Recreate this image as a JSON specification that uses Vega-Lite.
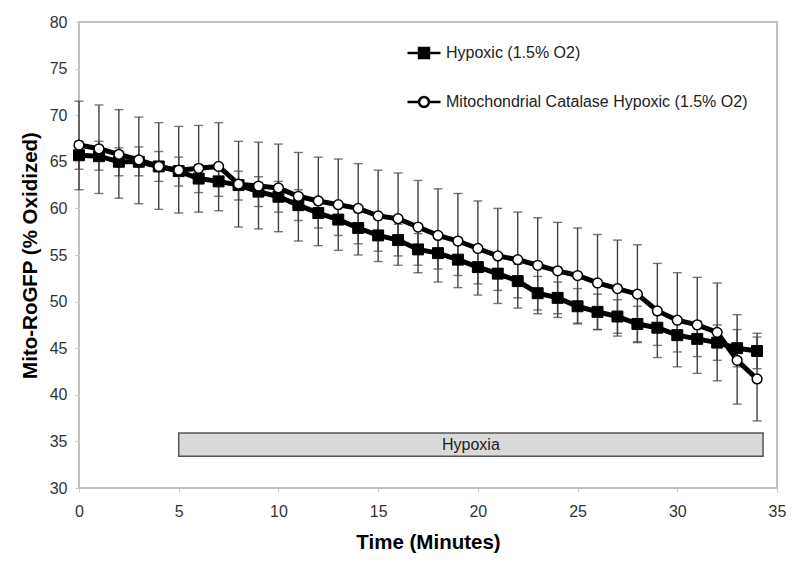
{
  "$schema": "https://vega.github.io/schema/vega-lite/v6.json",
  "width": 698,
  "height": 466,
  "autosize": "none",
  "padding": {"left": 79, "top": 22, "right": 23, "bottom": 78},
  "background": "white",
  "config": {
    "view": {"stroke": "#bfbfbf", "strokeWidth": 2},
    "font": "Liberation Sans",
    "axis": {
      "grid": false,
      "domain": false,
      "ticks": true,
      "tickSize": 4,
      "tickColor": "#c8c8c8",
      "labelFont": "Liberation Sans",
      "labelFontSize": 16,
      "labelColor": "#333333",
      "titleFont": "Liberation Sans",
      "titleFontSize": 20.5,
      "titleFontWeight": "bold",
      "titleColor": "#000000"
    },
    "legend": {
      "title": null,
      "orient": "none",
      "labelFont": "Liberation Sans",
      "labelFontSize": 16,
      "labelColor": "#222222",
      "labelLimit": 500,
      "labelOffset": 4,
      "symbolSize": 1089,
      "symbolStrokeColor": "#000000",
      "symbolStrokeWidth": 2.5
    }
  },
  "resolve": {"scale": {"fill": "independent"}, "legend": {"fill": "independent"}},
  "datasets": {
    "main": [
      {"t": 0, "series": "Hypoxic (1.5% O2)", "v": 65.7, "lo": 64.2, "hi": 67.2},
      {"t": 1, "series": "Hypoxic (1.5% O2)", "v": 65.6, "lo": 64.1, "hi": 67.2},
      {"t": 2, "series": "Hypoxic (1.5% O2)", "v": 65.0, "lo": 63.5, "hi": 66.5},
      {"t": 3, "series": "Hypoxic (1.5% O2)", "v": 65.0, "lo": 63.5, "hi": 66.6},
      {"t": 4, "series": "Hypoxic (1.5% O2)", "v": 64.5, "lo": 62.9, "hi": 66.1},
      {"t": 5, "series": "Hypoxic (1.5% O2)", "v": 64.0, "lo": 62.4, "hi": 65.5},
      {"t": 6, "series": "Hypoxic (1.5% O2)", "v": 63.2, "lo": 61.7, "hi": 64.7},
      {"t": 7, "series": "Hypoxic (1.5% O2)", "v": 62.9, "lo": 61.3, "hi": 64.4},
      {"t": 8, "series": "Hypoxic (1.5% O2)", "v": 62.5, "lo": 60.9, "hi": 64.0},
      {"t": 9, "series": "Hypoxic (1.5% O2)", "v": 61.8, "lo": 60.2, "hi": 63.4},
      {"t": 10, "series": "Hypoxic (1.5% O2)", "v": 61.25, "lo": 59.6, "hi": 62.9},
      {"t": 11, "series": "Hypoxic (1.5% O2)", "v": 60.35, "lo": 58.7, "hi": 62.0},
      {"t": 12, "series": "Hypoxic (1.5% O2)", "v": 59.5, "lo": 57.9, "hi": 61.1},
      {"t": 13, "series": "Hypoxic (1.5% O2)", "v": 58.8, "lo": 57.1, "hi": 60.5},
      {"t": 14, "series": "Hypoxic (1.5% O2)", "v": 57.9, "lo": 56.2, "hi": 59.6},
      {"t": 15, "series": "Hypoxic (1.5% O2)", "v": 57.1, "lo": 55.4, "hi": 58.8},
      {"t": 16, "series": "Hypoxic (1.5% O2)", "v": 56.6, "lo": 54.9, "hi": 58.3},
      {"t": 17, "series": "Hypoxic (1.5% O2)", "v": 55.6, "lo": 53.9, "hi": 57.3},
      {"t": 18, "series": "Hypoxic (1.5% O2)", "v": 55.2, "lo": 53.5, "hi": 56.9},
      {"t": 19, "series": "Hypoxic (1.5% O2)", "v": 54.5, "lo": 52.8, "hi": 56.2},
      {"t": 20, "series": "Hypoxic (1.5% O2)", "v": 53.7, "lo": 51.9, "hi": 55.5},
      {"t": 21, "series": "Hypoxic (1.5% O2)", "v": 53.0, "lo": 51.2, "hi": 54.8},
      {"t": 22, "series": "Hypoxic (1.5% O2)", "v": 52.2, "lo": 50.4, "hi": 54.0},
      {"t": 23, "series": "Hypoxic (1.5% O2)", "v": 50.9, "lo": 49.1, "hi": 52.7},
      {"t": 24, "series": "Hypoxic (1.5% O2)", "v": 50.4, "lo": 48.7, "hi": 52.1},
      {"t": 25, "series": "Hypoxic (1.5% O2)", "v": 49.5, "lo": 47.6, "hi": 51.4},
      {"t": 26, "series": "Hypoxic (1.5% O2)", "v": 48.9, "lo": 47.0, "hi": 50.8},
      {"t": 27, "series": "Hypoxic (1.5% O2)", "v": 48.4, "lo": 46.6, "hi": 50.2},
      {"t": 28, "series": "Hypoxic (1.5% O2)", "v": 47.6, "lo": 45.7, "hi": 49.5},
      {"t": 29, "series": "Hypoxic (1.5% O2)", "v": 47.2, "lo": 45.3, "hi": 49.1},
      {"t": 30, "series": "Hypoxic (1.5% O2)", "v": 46.4, "lo": 44.6, "hi": 48.2},
      {"t": 31, "series": "Hypoxic (1.5% O2)", "v": 46.0, "lo": 44.1, "hi": 47.9},
      {"t": 32, "series": "Hypoxic (1.5% O2)", "v": 45.6, "lo": 43.7, "hi": 47.5},
      {"t": 33, "series": "Hypoxic (1.5% O2)", "v": 45.0, "lo": 43.0, "hi": 47.0},
      {"t": 34, "series": "Hypoxic (1.5% O2)", "v": 44.7, "lo": 42.8, "hi": 46.6},
      {"t": 0, "series": "Mitochondrial Catalase Hypoxic (1.5% O2)", "v": 66.8, "lo": 62.0, "hi": 71.5},
      {"t": 1, "series": "Mitochondrial Catalase Hypoxic (1.5% O2)", "v": 66.4, "lo": 61.6, "hi": 71.1},
      {"t": 2, "series": "Mitochondrial Catalase Hypoxic (1.5% O2)", "v": 65.8, "lo": 61.1, "hi": 70.6},
      {"t": 3, "series": "Mitochondrial Catalase Hypoxic (1.5% O2)", "v": 65.2, "lo": 60.5, "hi": 69.8},
      {"t": 4, "series": "Mitochondrial Catalase Hypoxic (1.5% O2)", "v": 64.5, "lo": 59.9, "hi": 69.2},
      {"t": 5, "series": "Mitochondrial Catalase Hypoxic (1.5% O2)", "v": 64.1, "lo": 59.5, "hi": 68.8},
      {"t": 6, "series": "Mitochondrial Catalase Hypoxic (1.5% O2)", "v": 64.3, "lo": 59.6, "hi": 68.9},
      {"t": 7, "series": "Mitochondrial Catalase Hypoxic (1.5% O2)", "v": 64.5, "lo": 59.75, "hi": 69.2},
      {"t": 8, "series": "Mitochondrial Catalase Hypoxic (1.5% O2)", "v": 62.6, "lo": 58.0, "hi": 67.2},
      {"t": 9, "series": "Mitochondrial Catalase Hypoxic (1.5% O2)", "v": 62.4, "lo": 57.8, "hi": 67.1},
      {"t": 10, "series": "Mitochondrial Catalase Hypoxic (1.5% O2)", "v": 62.2, "lo": 57.5, "hi": 66.9},
      {"t": 11, "series": "Mitochondrial Catalase Hypoxic (1.5% O2)", "v": 61.3, "lo": 56.5, "hi": 66.0},
      {"t": 12, "series": "Mitochondrial Catalase Hypoxic (1.5% O2)", "v": 60.8, "lo": 56.0, "hi": 65.5},
      {"t": 13, "series": "Mitochondrial Catalase Hypoxic (1.5% O2)", "v": 60.4, "lo": 55.5, "hi": 65.3},
      {"t": 14, "series": "Mitochondrial Catalase Hypoxic (1.5% O2)", "v": 60.0, "lo": 55.0, "hi": 64.8},
      {"t": 15, "series": "Mitochondrial Catalase Hypoxic (1.5% O2)", "v": 59.2, "lo": 54.3, "hi": 64.1},
      {"t": 16, "series": "Mitochondrial Catalase Hypoxic (1.5% O2)", "v": 58.9, "lo": 53.9, "hi": 63.8},
      {"t": 17, "series": "Mitochondrial Catalase Hypoxic (1.5% O2)", "v": 58.0, "lo": 53.1, "hi": 63.0},
      {"t": 18, "series": "Mitochondrial Catalase Hypoxic (1.5% O2)", "v": 57.1, "lo": 52.1, "hi": 62.1},
      {"t": 19, "series": "Mitochondrial Catalase Hypoxic (1.5% O2)", "v": 56.5, "lo": 51.5, "hi": 61.6},
      {"t": 20, "series": "Mitochondrial Catalase Hypoxic (1.5% O2)", "v": 55.7, "lo": 50.7, "hi": 60.8},
      {"t": 21, "series": "Mitochondrial Catalase Hypoxic (1.5% O2)", "v": 54.9, "lo": 49.8, "hi": 60.0},
      {"t": 22, "series": "Mitochondrial Catalase Hypoxic (1.5% O2)", "v": 54.5, "lo": 49.3, "hi": 59.6},
      {"t": 23, "series": "Mitochondrial Catalase Hypoxic (1.5% O2)", "v": 53.9, "lo": 48.7, "hi": 59.0},
      {"t": 24, "series": "Mitochondrial Catalase Hypoxic (1.5% O2)", "v": 53.3, "lo": 48.3, "hi": 58.5},
      {"t": 25, "series": "Mitochondrial Catalase Hypoxic (1.5% O2)", "v": 52.8, "lo": 47.7, "hi": 57.9},
      {"t": 26, "series": "Mitochondrial Catalase Hypoxic (1.5% O2)", "v": 52.0, "lo": 47.0, "hi": 57.2},
      {"t": 27, "series": "Mitochondrial Catalase Hypoxic (1.5% O2)", "v": 51.4, "lo": 46.3, "hi": 56.6},
      {"t": 28, "series": "Mitochondrial Catalase Hypoxic (1.5% O2)", "v": 50.8, "lo": 45.6, "hi": 56.1},
      {"t": 29, "series": "Mitochondrial Catalase Hypoxic (1.5% O2)", "v": 49.0, "lo": 44.0, "hi": 54.1},
      {"t": 30, "series": "Mitochondrial Catalase Hypoxic (1.5% O2)", "v": 48.0, "lo": 43.0, "hi": 53.1},
      {"t": 31, "series": "Mitochondrial Catalase Hypoxic (1.5% O2)", "v": 47.5, "lo": 42.3, "hi": 52.6},
      {"t": 32, "series": "Mitochondrial Catalase Hypoxic (1.5% O2)", "v": 46.7, "lo": 41.5, "hi": 52.0},
      {"t": 33, "series": "Mitochondrial Catalase Hypoxic (1.5% O2)", "v": 43.7, "lo": 39.0, "hi": 48.6},
      {"t": 34, "series": "Mitochondrial Catalase Hypoxic (1.5% O2)", "v": 41.7, "lo": 37.2, "hi": 46.2}
    ],
    "band": [
      {"start": 5, "end": 34.3, "bottom": 33.4, "top": 35.9, "mid": 19.65, "ymid": 34.65, "label": "Hypoxia"}
    ]
  },
  "layer": [
    {
      "data": {"name": "band"},
      "mark": {"type": "rect", "fill": "#d9d9d9", "stroke": "#555555", "strokeWidth": 1.5},
      "encoding": {
        "x": {"field": "start", "type": "quantitative", "scale": {"domain": [0, 35]}, "title": "Time (Minutes)"},
        "x2": {"field": "end"},
        "y": {"field": "bottom", "type": "quantitative", "scale": {"domain": [30, 80]}, "title": "Mito-RoGFP (% Oxidized)"},
        "y2": {"field": "top"}
      }
    },
    {
      "data": {"name": "band"},
      "mark": {"type": "text", "font": "Liberation Sans", "fontSize": 16, "color": "#222222", "baseline": "middle", "align": "center"},
      "encoding": {
        "x": {"field": "mid", "type": "quantitative", "title": "Time (Minutes)"},
        "y": {"field": "ymid", "type": "quantitative", "title": "Mito-RoGFP (% Oxidized)"},
        "text": {"field": "label"}
      }
    },
    {
      "data": {"name": "main"},
      "mark": {"type": "errorbar", "color": "#404040", "thickness": 1.4, "ticks": {"size": 9, "thickness": 1.4, "color": "#404040"}},
      "encoding": {
        "x": {"field": "t", "type": "quantitative", "title": "Time (Minutes)"},
        "y": {"field": "lo", "type": "quantitative", "title": "Mito-RoGFP (% Oxidized)"},
        "y2": {"field": "hi"}
      }
    },
    {
      "data": {"name": "main"},
      "mark": {"type": "line", "color": "#000000", "strokeWidth": 5},
      "encoding": {
        "x": {"field": "t", "type": "quantitative", "title": "Time (Minutes)"},
        "y": {"field": "v", "type": "quantitative", "title": "Mito-RoGFP (% Oxidized)"},
        "detail": {"field": "series"}
      }
    },
    {
      "data": {"name": "main"},
      "transform": [{"filter": "datum.series === 'Hypoxic (1.5% O2)'"}],
      "mark": {"type": "point", "shape": "square", "size": 120, "filled": true, "stroke": "#000000", "strokeWidth": 1, "opacity": 1},
      "encoding": {
        "x": {"field": "t", "type": "quantitative", "title": "Time (Minutes)"},
        "y": {"field": "v", "type": "quantitative", "title": "Mito-RoGFP (% Oxidized)"},
        "fill": {
          "field": "series", "type": "nominal",
          "scale": {"domain": ["Hypoxic (1.5% O2)"], "range": ["#000000"]},
          "legend": {
            "legendX": 327,
            "legendY": 13,
            "symbolType": "M-1,0H1M-0.3,-0.3H0.3V0.3H-0.3Z"
          }
        }
      }
    },
    {
      "data": {"name": "main"},
      "transform": [{"filter": "datum.series !== 'Hypoxic (1.5% O2)'"}],
      "mark": {"type": "point", "shape": "circle", "size": 95, "filled": true, "stroke": "#000000", "strokeWidth": 1.5, "opacity": 1},
      "encoding": {
        "x": {
          "field": "t", "type": "quantitative",
          "scale": {"domain": [0, 35]},
          "title": "Time (Minutes)",
          "axis": {"values": [0, 5, 10, 15, 20, 25, 30, 35], "labelFlush": false, "labelPadding": 11, "titlePadding": 13}
        },
        "y": {
          "field": "v", "type": "quantitative",
          "scale": {"domain": [30, 80]},
          "title": "Mito-RoGFP (% Oxidized)",
          "axis": {"values": [30, 35, 40, 45, 50, 55, 60, 65, 70, 75, 80], "labelPadding": 8, "titlePadding": 9}
        },
        "fill": {
          "field": "series", "type": "nominal",
          "scale": {"domain": ["Mitochondrial Catalase Hypoxic (1.5% O2)"], "range": ["#ffffff"]},
          "legend": {
            "legendX": 327,
            "legendY": 62,
            "symbolType": "M-1,0H-0.3M0.3,0H1M0.3,0A0.3,0.3 0 1 1 -0.3,0A0.3,0.3 0 1 1 0.3,0Z"
          }
        }
      }
    }
  ]
}
